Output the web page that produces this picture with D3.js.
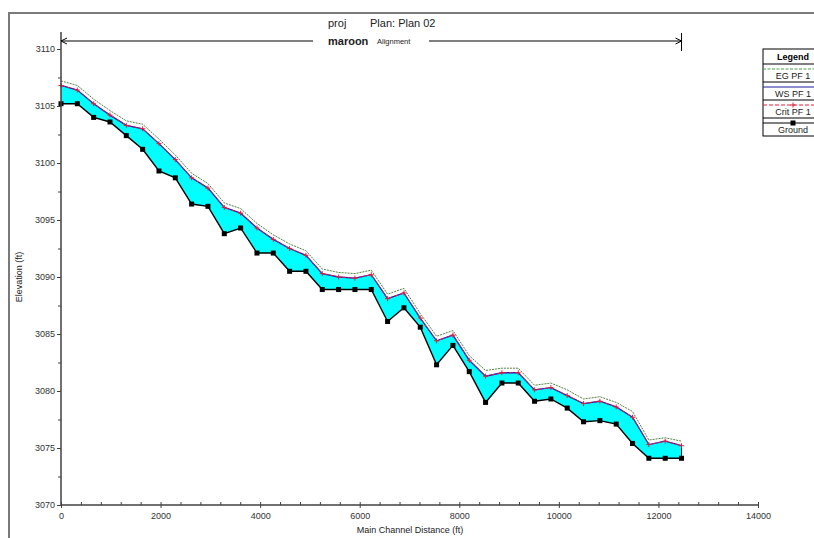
<!DOCTYPE html>
<html>
<head>
<meta charset="utf-8">
<script src="https://cdn.jsdelivr.net/npm/d3@7"></script>
<style>
  body { margin: 0; background: #fff; }
  svg { display: block; font-family: "Liberation Sans", Arial, sans-serif; }
</style>
</head>
<body>
<div id="chart"></div>
<script>
// main channel distance (ft) of each cross section
const stations = [0, 328, 656, 984, 1312, 1640, 1968, 2296, 2624, 2952, 3280, 3608, 3936, 4264,
  4592, 4920, 5248, 5576, 5904, 6232, 6560, 6888, 7216, 7544, 7872, 8200, 8528, 8856, 9184,
  9512, 9840, 10168, 10496, 10824, 11152, 11480, 11808, 12136, 12464];

const ground = [3105.2, 3105.2, 3104.0, 3103.6, 3102.4, 3101.2, 3099.3, 3098.7, 3096.4, 3096.2,
  3093.8, 3094.3, 3092.1, 3092.1, 3090.5, 3090.5, 3088.9, 3088.9, 3088.9, 3088.9,
  3086.1, 3087.3, 3085.6, 3082.3, 3084.0, 3081.7, 3079.0, 3080.7, 3080.7, 3079.1,
  3079.3, 3078.5, 3077.3, 3077.4, 3077.1, 3075.4, 3074.1, 3074.1, 3074.1];

const wsPF1 = [3106.8, 3106.4, 3105.2, 3104.2, 3103.3, 3103.0, 3101.7, 3100.3, 3098.7, 3097.8,
  3096.1, 3095.6, 3094.3, 3093.3, 3092.5, 3091.9, 3090.3, 3090.0, 3089.9, 3090.2,
  3088.1, 3088.6, 3086.4, 3084.4, 3084.9, 3082.7, 3081.3, 3081.6, 3081.6, 3080.1,
  3080.3, 3079.6, 3078.9, 3079.1, 3078.6, 3077.7, 3075.3, 3075.6, 3075.2];

const egPF1 = [3107.2, 3106.8, 3105.6, 3104.6, 3103.7, 3103.4, 3102.1, 3100.7, 3099.1, 3098.2,
  3096.5, 3096.0, 3094.7, 3093.7, 3092.9, 3092.3, 3090.7, 3090.4, 3090.3, 3090.6,
  3088.5, 3089.0, 3086.8, 3084.8, 3085.3, 3083.1, 3081.8, 3082.0, 3082.0, 3080.5,
  3080.7, 3080.1, 3079.3, 3079.5, 3079.0, 3078.2, 3075.7, 3075.9, 3075.6];

const critPF1 = [3106.8, 3106.4, 3105.2, 3104.2, 3103.3, 3103.0, 3101.7, 3100.3, 3098.7, 3097.8,
  3096.1, 3095.6, 3094.3, 3093.3, 3092.5, 3091.9, 3090.3, 3090.0, 3089.9, 3090.2,
  3088.1, 3088.6, 3086.4, 3084.4, 3084.9, 3082.7, 3081.3, 3081.6, 3081.6, 3080.1,
  3080.3, 3079.6, 3078.9, 3079.1, 3078.6, 3077.7, 3075.3, 3075.6, 3075.2];

const xTicks = [0, 2000, 4000, 6000, 8000, 10000, 12000, 14000];
const yTicks = [3070, 3075, 3080, 3085, 3090, 3095, 3100, 3105, 3110];
const legendItems = ["EG  PF 1", "WS  PF 1", "Crit  PF 1", "Ground"];

const W = 814, H = 538;
const svg = d3.select("#chart").append("svg").attr("width", W).attr("height", H);

svg.append("rect").attr("width", W).attr("height", H).attr("fill", "#fff");
// outer frame
svg.append("rect").attr("x", 9).attr("y", 13).attr("width", 830).attr("height", 560)
  .attr("fill", "none").attr("stroke", "#7a7a7a").attr("stroke-width", 2);

const x = d3.scaleLinear().domain([0, 14000]).range([61, 758]);
const y = d3.scaleLinear().domain([3070, 3110]).range([505, 49]);

const rows = stations.map((s, i) => ({ s, g: ground[i], ws: wsPF1[i], eg: egPF1[i], cr: critPF1[i] }));

// water fill between ground and WS
svg.append("path").datum(rows)
  .attr("fill", "#00ffff")
  .attr("d", d3.area().x(d => x(d.s)).y0(d => y(d.g)).y1(d => y(d.ws)));
svg.append("line")
  .attr("x1", x(stations[stations.length - 1])).attr("x2", x(stations[stations.length - 1]))
  .attr("y1", y(ground[ground.length - 1])).attr("y2", y(wsPF1[wsPF1.length - 1]))
  .attr("stroke", "#000").attr("stroke-width", 1);

const line = key => d3.line().x(d => x(d.s)).y(d => y(d[key]));

svg.append("path").datum(rows).attr("fill", "none")
  .attr("stroke", "#4f7f3f").attr("stroke-width", 1).attr("stroke-dasharray", "2,1")
  .attr("d", line("eg"));
svg.append("path").datum(rows).attr("fill", "none")
  .attr("stroke", "#1c1ccc").attr("stroke-width", 1.3)
  .attr("d", line("ws"));
svg.append("path").datum(rows).attr("fill", "none")
  .attr("stroke", "#e0203a").attr("stroke-width", 1).attr("stroke-dasharray", "4,2")
  .attr("d", line("cr"));
svg.append("g").selectAll("path").data(rows).join("path")
  .attr("d", d => `M${x(d.s) - 2.5},${y(d.cr)}h5M${x(d.s)},${y(d.cr) - 2.5}v5`)
  .attr("stroke", "#e0203a").attr("stroke-width", 1);

svg.append("path").datum(rows).attr("fill", "none")
  .attr("stroke", "#000").attr("stroke-width", 1.4)
  .attr("d", line("g"));
svg.append("g").selectAll("rect").data(rows).join("rect")
  .attr("x", d => x(d.s) - 2.5).attr("y", d => y(d.g) - 2.5)
  .attr("width", 5).attr("height", 5).attr("fill", "#000");

// axes
const axisColor = "#404040";
const yAxis = svg.append("g").attr("transform", "translate(61,0)")
  .call(d3.axisLeft(y).tickValues(yTicks).tickSize(4).tickFormat(d3.format("d")));
yAxis.select(".domain").remove();
yAxis.selectAll("line").attr("stroke", axisColor);
yAxis.selectAll("text").attr("font-size", 9).attr("fill", "#333").attr("dx", 1);
svg.append("g").attr("transform", "translate(61,0)")
  .call(d3.axisLeft(y).tickValues(d3.range(3072.5, 3110, 5)).tickSize(3).tickFormat(""))
  .call(g => g.select(".domain").remove())
  .selectAll("line").attr("stroke", axisColor);
svg.append("line").attr("x1", 61).attr("x2", 61).attr("y1", 32).attr("y2", 505)
  .attr("stroke", axisColor).attr("stroke-width", 1.5);

const xAxis = svg.append("g").attr("transform", "translate(0,505)")
  .call(d3.axisBottom(x).tickValues(xTicks).tickSize(3).tickFormat(d3.format("d")));
xAxis.select(".domain").remove();
xAxis.selectAll("line").attr("stroke", axisColor).attr("y1", -3);
xAxis.selectAll("text").attr("font-size", 9).attr("fill", "#333").attr("dy", "0.9em");
svg.append("g").attr("transform", "translate(0,505)")
  .call(d3.axisTop(x).tickValues(d3.range(400, 14000, 400).filter(v => v % 2000 !== 0)).tickSize(3).tickFormat(""))
  .call(g => g.select(".domain").remove())
  .selectAll("line").attr("stroke", axisColor);
svg.append("line").attr("x1", 61).attr("x2", 758).attr("y1", 505).attr("y2", 505)
  .attr("stroke", axisColor).attr("stroke-width", 1.5);

svg.append("text").attr("x", 410).attr("y", 533).attr("text-anchor", "middle")
  .attr("font-size", 9).attr("fill", "#222").text("Main Channel Distance (ft)");
svg.append("text").attr("transform", "translate(22,277) rotate(-90)").attr("text-anchor", "middle")
  .attr("font-size", 9).attr("fill", "#222").text("Elevation (ft)");

// title and alignment arrow
svg.append("text").attr("x", 328).attr("y", 27).attr("font-size", 11).attr("fill", "#222").text("proj");
svg.append("text").attr("x", 370).attr("y", 27).attr("font-size", 11).attr("fill", "#222").text("Plan: Plan 02");
svg.append("text").attr("x", 328).attr("y", 45).attr("font-size", 11).attr("font-weight", "bold").attr("fill", "#222").text("maroon");
svg.append("text").attr("x", 377).attr("y", 44).attr("font-size", 7.5).attr("fill", "#222").text("Alignment");

const ax0 = x(stations[0]), ax1 = x(stations[stations.length - 1]);
svg.append("line").attr("x1", ax0).attr("x2", 313).attr("y1", 41).attr("y2", 41).attr("stroke", "#000");
svg.append("line").attr("x1", 429).attr("x2", ax1).attr("y1", 41).attr("y2", 41).attr("stroke", "#000");
svg.append("path").attr("d", `M${ax0 + 6},38L${ax0},41L${ax0 + 6},44`).attr("fill", "none").attr("stroke", "#000");
svg.append("path").attr("d", `M${ax1 - 6},38L${ax1},41L${ax1 - 6},44`).attr("fill", "none").attr("stroke", "#000");
svg.append("line").attr("x1", ax1).attr("x2", ax1).attr("y1", 33).attr("y2", 51).attr("stroke", "#000");

// legend
const lg = svg.append("g").attr("transform", "translate(763,49)");
lg.append("rect").attr("width", 60).attr("height", 87).attr("fill", "#fff").attr("stroke", "#000");
lg.append("text").attr("x", 30).attr("y", 11).attr("text-anchor", "middle")
  .attr("font-size", 9).attr("font-weight", "bold").text("Legend");
lg.append("line").attr("x1", 0).attr("x2", 60).attr("y1", 15).attr("y2", 15).attr("stroke", "#000");
const legendStyle = [
  { stroke: "#4f9f4f", dash: "3,1.5" },
  { stroke: "#1c1c9c", dash: null },
  { stroke: "#e0203a", dash: "4,2", plus: true },
  { stroke: "#000", dash: null, square: true }
];
legendItems.forEach((name, i) => {
  const top = 15 + i * 18;
  const g = lg.append("g").attr("transform", `translate(0,${top})`);
  g.append("line").attr("x1", 0).attr("x2", 60).attr("y1", 5).attr("y2", 5)
    .attr("stroke", legendStyle[i].stroke).attr("stroke-dasharray", legendStyle[i].dash);
  if (legendStyle[i].plus) g.append("path").attr("d", "M27.5,5h5M30,2.5v5").attr("stroke", "#e0203a");
  if (legendStyle[i].square) g.append("rect").attr("x", 27.5).attr("y", 2.5).attr("width", 5).attr("height", 5);
  g.append("text").attr("x", 30).attr("y", 14.5).attr("text-anchor", "middle")
    .attr("font-size", 9).attr("fill", "#222").text(name);
  if (i < 3) g.append("line").attr("x1", 0).attr("x2", 60).attr("y1", 18).attr("y2", 18).attr("stroke", "#000");
});
</script>
</body>
</html>
